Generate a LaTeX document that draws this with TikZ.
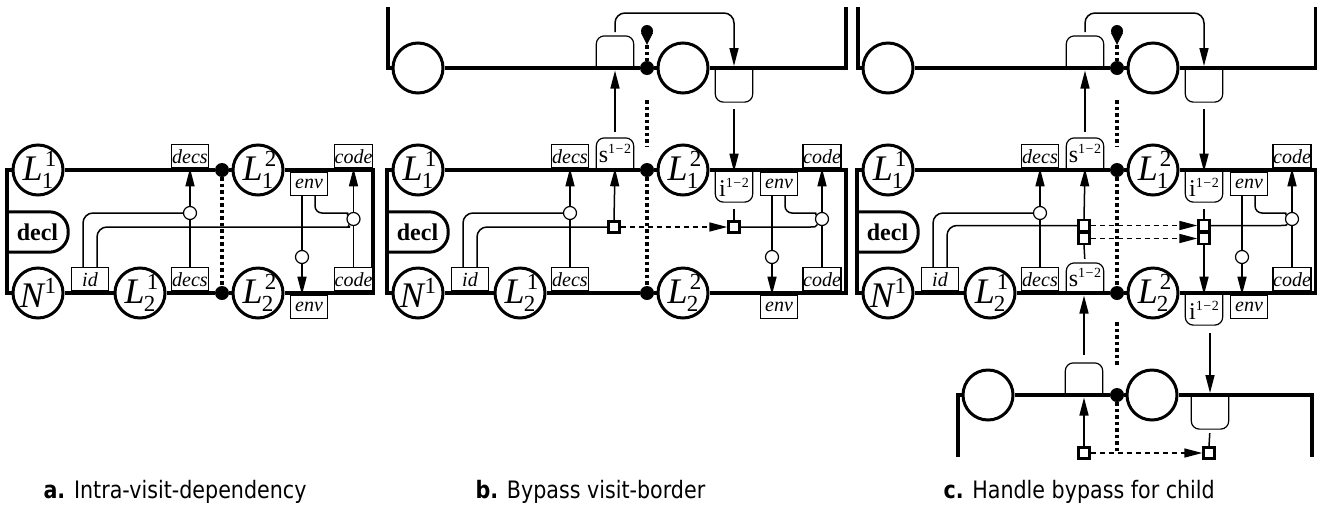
\documentclass[tikz,border=0pt]{standalone}
\usepackage{fontspec}
\setmainfont{Liberation Serif}
\newfontfamily\capfont[FakeStretch=0.86]{DejaVu Sans}
\usetikzlibrary{arrows.meta}
\pgfdeclarelayer{background}
\pgfsetlayers{background,main}
\newcommand{\digsz}{\fontsize{23}{23}\selectfont}
\newcommand{\LL}[2]{\textit{L}\kern-1pt\rlap{\kern3pt\raisebox{14pt}{\digsz #1}}\raisebox{-8pt}{\digsz #2}}
\newcommand{\NN}{\textit{N}\kern-1pt\raisebox{14pt}{\digsz 1}}
\newcommand{\SI}[1]{#1\raisebox{9pt}{\fontsize{14}{14}\selectfont 1\kern0.5pt −\kern0.5pt 2}}
\tikzset{
 bus/.style={line width=3.5pt},
 vis/.style={circle, draw, line width=3pt, fill=white, minimum size=50pt, inner sep=0pt, font=\fontsize{36}{36}\selectfont},
 attr/.style={draw, line width=1.2pt, fill=white, minimum width=37pt, minimum height=23pt, inner sep=0pt, font=\fontsize{20}{20}\selectfont\itshape},
 rbox/.style={minimum width=37pt, minimum height=30pt, inner sep=0pt, font=\fontsize{24}{24}\selectfont},
 rline/.style={line width=1.2pt, rounded corners=8pt},
 dep/.style={line width=1.5pt},
 arr/.style={dep, -{Triangle[length=18pt,width=9pt]}},
 darr/.style={arr, dash pattern=on 5pt off 4pt},
 hc/.style={circle, draw, line width=1.2pt, fill=white, minimum size=13pt, inner sep=0pt},
 sq/.style={draw, line width=2.4pt, fill=white, minimum width=11pt, minimum height=11pt, inner sep=0pt},
 jdot/.style={circle, fill, minimum size=14pt, inner sep=0pt},
 vdots/.style={line width=3.5pt, dash pattern=on 3.5pt off 3pt},
 declbox/.style={minimum width=61pt, minimum height=40pt, inner sep=0pt, font=\fontsize{24}{24}\selectfont\bfseries},
 capt/.style={anchor=base west, font=\capfont\fontsize{24}{24}\selectfont},
}
\newcommand{\core}[1]{%
\coordinate (#1tl) at (7,170); \coordinate (#1bl) at (7,293);
\coordinate (#1tr) at (466,170); \coordinate (#1br) at (466,293);
\node[vis] (#1L11) at (38,170) {\LL{1}{1}};
\node[jdot] (#1dt) at (267,170) {};
\node[vis] (#1L12) at (303,170) {\LL{2}{1}};
\node[vis] (#1N) at (38,293) {\NN};
\node[vis] (#1L21) at (140,293) {\LL{1}{2}};
\node[jdot] (#1db) at (267,293) {};
\node[vis] (#1L22) at (303,293) {\LL{2}{2}};
\node[declbox] (#1decl) at (37.5,232) {decl\hspace{12pt}};
\draw[line width=3pt, rounded corners=19pt] (#1decl.north west) -- (#1decl.north east) -- (#1decl.south east) -- (#1decl.south west);
\node[attr, anchor=south] (#1dect) at (190,168.3) {decs};
\node[rbox, anchor=south] (#1st) at (235,168.3) {\SI{s}};
\draw[rline] (#1st.south west) -- (#1st.north west) -- (#1st.north east) -- (#1st.south east);
\node[rbox, anchor=north] (#1it) at (354,171.7) {\SI{i}};
\draw[rline] (#1it.north west) -- (#1it.south west) -- (#1it.south east) -- (#1it.north east);
\node[attr, anchor=north] (#1envt) at (399,171.7) {env};
\node[attr, anchor=south, minimum width=38pt] (#1codet) at (442,168.3) {code};
\node[attr, anchor=south] (#1id) at (90,291.3) {id};
\node[attr, anchor=south] (#1decb) at (190,291.3) {decs};
\node[attr, anchor=south, minimum width=38pt] (#1codeb) at (442,291.3) {code};
\node[attr, anchor=north] (#1envb) at (399,294.7) {env};
\node[hc] (#1h1) at (190,213) {};
\node[hc] (#1h3) at (442,219) {};
\node[hc] (#1h4) at (392,257) {};
\coordinate (#1e1) at (428,213); \coordinate (#1e2) at (436,213);
\coordinate (#1k1) at (428,0); \coordinate (#1k2) at (436,0);
\coordinate (#1pl0) at (8,7); \coordinate (#1pl) at (8,68);
\coordinate (#1pr) at (466,68); \coordinate (#1pr0) at (466,7);
\node[vis] (#1P1) at (38,68) {};
\node[jdot] (#1pd) at (267,68) {};
\node[vis] (#1P2) at (303,68) {};
\node[rbox, anchor=south] (#1ps) at (235,66.3) {};
\draw[rline] (#1ps.south west) -- (#1ps.north west) -- (#1ps.north east) -- (#1ps.south east);
\node[rbox, anchor=north, minimum height=32pt] (#1pi) at (354,69.7) {};
\draw[rline] (#1pi.north west) -- (#1pi.south west) -- (#1pi.south east) -- (#1pi.north east);
\node[circle, fill, minimum size=12pt, inner sep=0pt] (#1pin) at (267,31) {};
\coordinate (#1pintip) at (267,45);
\fill (#1pin.200) -- (#1pintip) -- (#1pin.-20) -- cycle;
\coordinate (#1v1) at (267,100); \coordinate (#1v2) at (267,147);
\coordinate (#1sa) at (235,132); \coordinate (#1sb) at (235,70.5);
\coordinate (#1c0) at (235,32); \coordinate (#1c1) at (235,13);
\coordinate (#1c2) at (354,13); \coordinate (#1c3) at (354,66);
\begin{pgfonlayer}{background}
\draw[bus] (#1L11) -- (#1tl) -- (#1bl) -- (#1N);
\draw[bus] (#1L12) -- (#1tr) -- (#1br) -- (#1L22);
\draw[bus] (#1L11) -- (#1dt) -- (#1L12);
\draw[bus] (#1N) -- (#1L21) -- (#1db) -- (#1L22);
\draw[bus] (#1P1) -- (#1pl) -- (#1pl0);
\draw[bus] (#1P2) -- (#1pr) -- (#1pr0);
\draw[bus] (#1P1) -- (#1pd) -- (#1P2);
\draw[vdots] (#1dt) -- (#1db);
\draw[vdots] (#1pintip) -- (#1pd);
\draw[vdots] (#1v1) -- (#1v2);
\draw[arr] (#1decb.north) -- (#1dect.south);
\draw[arr] (#1codeb.north) -- (#1codet.south);
\draw[arr] ([xshift=-7pt]#1envt.south) -- ([xshift=-7pt]#1envb.north);
\draw[dep, rounded corners=10pt] ([xshift=-7pt]#1id.north) |- (#1h1.west);
\draw[dep, rounded corners=10pt] ([xshift=7pt]#1id.north) |- (#1sq1.west);
\draw[arr] (#1sq1.north) -- (#1st.south);
\draw[dep] (#1sq2.east) -- (#1sq2.east -| #1k1) .. controls (#1sq2.east -| #1k2) .. (#1h3.-130);
\draw[dep] ([xshift=6pt]#1envt.south) [rounded corners=7pt] |- (#1e1) [sharp corners] .. controls (#1e2) .. (#1h3.150);
\draw[dep, shorten <=7pt] (#1it.south) -- (#1sq2.north);
\draw[arr] (#1sa) -- (#1sb);
\draw[arr, rounded corners=10pt] (#1c0) -- (#1c1) -- (#1c2) -- (#1c3);
\draw[arr, shorten <=7pt] (#1pi.south) -- (#1it.north);
\end{pgfonlayer}
}
\begin{document}
\begin{tikzpicture}[x=1pt, y=-1pt]
\useasboundingbox (0,0) rectangle (1317,507);
% ---------------- panel a
\coordinate (atl) at (7,170); \coordinate (abl) at (7,293);
\coordinate (atr) at (373,170); \coordinate (abr) at (373,293);
\node[vis] (aL11) at (38,170) {\LL{1}{1}};
\node[jdot] (adt) at (222,170) {};
\node[vis] (aL12) at (258,170) {\LL{2}{1}};
\node[vis] (aN) at (38,293) {\NN};
\node[vis] (aL21) at (140,293) {\LL{1}{2}};
\node[jdot] (adb) at (222,293) {};
\node[vis] (aL22) at (258,293) {\LL{2}{2}};
\node[declbox] (adecl) at (37.5,232) {decl\hspace{12pt}};
\draw[line width=3pt, rounded corners=19pt] (adecl.north west) -- (adecl.north east) -- (adecl.south east) -- (adecl.south west);
\node[attr, anchor=south] (adect) at (190,168.3) {decs};
\node[attr, anchor=north] (aenvt) at (309,171.7) {env};
\node[attr, anchor=south] (acodet) at (353.5,168.3) {code};
\node[attr, anchor=south] (aid) at (90,291.3) {id};
\node[attr, anchor=south] (adecb) at (190,291.3) {decs};
\node[attr, anchor=south] (acodeb) at (353.5,291.3) {code};
\node[attr, anchor=north] (aenvb) at (309,294.7) {env};
\node[hc] (ah1) at (190,213) {};
\node[hc] (ah3) at (353.5,219) {};
\node[hc] (ah4) at (302,257) {};
\coordinate (ae1) at (340,213); \coordinate (ae2) at (348,213);
\coordinate (ae3) at (340,227); \coordinate (ae4) at (348,227);
\begin{pgfonlayer}{background}
\draw[bus] (aL11) -- (atl) -- (abl) -- (aN);
\draw[bus] (aL12) -- (atr) -- (abr) -- (aL22);
\draw[bus] (aL11) -- (adt) -- (aL12);
\draw[bus] (aN) -- (aL21) -- (adb) -- (aL22);
\draw[vdots] (adt) -- (adb);
\draw[arr] (adecb.north) -- (adect.south);
\draw[arr] (acodeb.north) -- (acodet.south);
\draw[arr] ([xshift=-7pt]aenvt.south) -- ([xshift=-7pt]aenvb.north);
\draw[dep, rounded corners=10pt] ([xshift=-7pt]aid.north) |- (ah1.west);
\draw[dep] ([xshift=7pt]aid.north) [rounded corners=10pt] |- (ae3) [sharp corners] .. controls (ae4) .. (ah3.-130);
\draw[dep] ([xshift=6pt]aenvt.south) [rounded corners=7pt] |- (ae1) [sharp corners] .. controls (ae2) .. (ah3.150);
\end{pgfonlayer}
% ---------------- panel b
\begin{scope}[shift={(380,0)}]
\node[sq] (bsq1) at (234,227) {};
\node[sq] (bsq2) at (354,227) {};
\core{b}
\begin{pgfonlayer}{background}
\draw[darr] (bsq1) -- (bsq2);
\end{pgfonlayer}
\end{scope}
% ---------------- panel c
\begin{scope}[shift={(850,0)}]
\node[sq] (csq1) at (234,225.5) {};
\node[sq] (csq3) at (234,238.5) {};
\node[sq] (csq2) at (354,225.5) {};
\node[sq] (csq4) at (354,238.5) {};
\core{c}
\node[rbox, anchor=south, minimum height=28pt] (csb) at (235,291.3) {\SI{s}};
\draw[rline] (csb.south west) -- (csb.north west) -- (csb.north east) -- (csb.south east);
\node[rbox, anchor=north] (cib) at (354,294.7) {\SI{i}};
\draw[rline] (cib.north west) -- (cib.south west) -- (cib.south east) -- (cib.north east);
\coordinate (ccl0) at (108,457); \coordinate (ccl) at (108,395);
\coordinate (ccr) at (462,395); \coordinate (ccr0) at (462,457);
\node[vis] (cC1) at (138,395) {};
\node[jdot] (ccd) at (267,395) {};
\node[vis] (cC2) at (302,395) {};
\node[rbox, anchor=south] (ccs) at (234,393.3) {};
\draw[rline] (ccs.south west) -- (ccs.north west) -- (ccs.north east) -- (ccs.south east);
\node[rbox, anchor=north, minimum height=32pt] (cci) at (360,396.7) {};
\draw[rline] (cci.north west) -- (cci.south west) -- (cci.south east) -- (cci.north east);
\node[sq] (ccq1) at (234,453) {};
\node[sq] (ccq2) at (359,453) {};
\coordinate (cw1) at (267,322); \coordinate (cw2) at (267,365); \coordinate (cw3) at (267,453);
\coordinate (cca) at (234,355); \coordinate (ccb) at (234,295.5);
\coordinate (ccc) at (234,397.5); \coordinate (ccd0) at (360,333); \coordinate (ccd1) at (360,393);
\begin{pgfonlayer}{background}
\draw[bus] (ccl0) -- (ccl) -- (cC1);
\draw[bus] (cC1) -- (ccd) -- (cC2);
\draw[bus] (cC2) -- (ccr) -- (ccr0);
\draw[vdots] (cw1) -- (cw2);
\draw[vdots] (ccd) -- (cw3);
\draw[darr] (csq1) -- (csq2);
\draw[darr] (csq3) -- (csq4);
\draw[dep, shorten >=4pt] (csq3.south) -- (csb.north);
\draw[arr] (csq4.south) -- (cib.north);
\draw[arr] (cca) -- (ccb);
\draw[arr] (ccq1.north) -- (ccc);
\draw[darr] (ccq1) -- (ccq2);
\draw[dep, shorten <=4pt] (cci.south) -- (ccq2.north);
\draw[arr] (ccd0) -- (ccd1);
\end{pgfonlayer}
\end{scope}
% ---------------- captions
\node[capt] (capa) at (40,498) {\textbf{a.} Intra-visit-dependency};
\node[capt] (capb) at (472,498) {\textbf{b.} Bypass visit-border};
\node[capt] (capc) at (940,498) {\textbf{c.} Handle bypass for child};
\end{tikzpicture}
\end{document}
